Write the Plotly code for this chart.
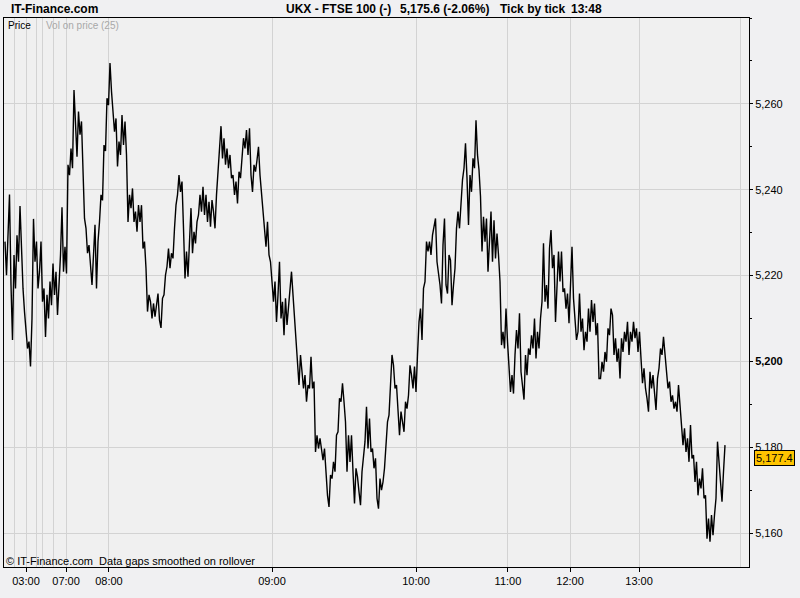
import plotly.graph_objects as go

W, H = 800, 598
L, R, T, B = 4, 51, 18, 31   # plot frame margins in pixels

# tick-by-tick prices (one reading every ~1.5 px)
price_0300_0840 = [
    5227.9, 5220.1, 5229.4, 5238.9, 5217.8, 5205.0, 5224.8, 5217.0, 5229.4, 5223.2,
    5236.2, 5224.8, 5217.0, 5211.6, 5206.1, 5203.0, 5204.6, 5198.8, 5210.0, 5233.2,
    5223.2, 5227.9, 5217.0, 5220.9, 5227.9, 5213.9, 5217.0, 5205.7, 5215.5, 5210.0,
    5218.6, 5213.1, 5222.8, 5215.5, 5220.9, 5210.8, 5217.8, 5224.8, 5235.9, 5220.9,
    5226.7, 5220.5, 5245.8, 5243.4, 5249.6, 5245.0, 5263.2, 5253.5, 5247.7, 5258.2,
    5252.8, 5255.9, 5242.7, 5233.3, 5231.0, 5225.2, 5227.1, 5222.4, 5217.8, 5224.8,
    5231.8, 5217.0, 5227.9, 5232.5, 5238.8, 5237.5, 5250.4, 5249.0, 5261.3, 5259.7,
    5269.5, 5262.9, 5257.8, 5253.5, 5256.6, 5245.4, 5251.2, 5248.1, 5257.4, 5250.4,
    5255.9, 5248.1, 5232.5, 5238.8, 5235.7, 5240.3, 5232.5, 5234.9, 5230.2, 5236.4,
    5232.5, 5236.4, 5226.3, 5227.9, 5221.7, 5211.6, 5215.5]
price_0840_0910 = [
    5213.9, 5210.0, 5213.5, 5210.4, 5213.1, 5215.8, 5209.6, 5207.8, 5214.7, 5215.5,
    5220.1, 5222.1, 5226.3, 5221.7, 5225.2, 5224.0, 5231.0, 5236.4, 5238.8, 5243.4,
    5239.5, 5241.9, 5231.0, 5219.3, 5225.6, 5219.7, 5227.9, 5235.7, 5225.2, 5230.2,
    5227.5, 5232.5, 5234.1, 5238.8, 5234.9, 5240.7, 5234.1, 5238.8, 5232.5, 5237.2,
    5231.4, 5237.6, 5234.9, 5231.0, 5238.8, 5245.0, 5248.9, 5254.8, 5247.3, 5252.0,
    5245.8, 5249.6, 5245.0, 5248.1, 5242.7, 5243.4, 5238.8, 5241.9, 5236.8, 5244.2,
    5242.7, 5246.5, 5252.0, 5249.6, 5253.9, 5248.1, 5254.3, 5243.4, 5239.5, 5245.8,
    5244.2, 5246.9, 5250.0, 5243.4, 5238.8, 5235.7, 5231.0, 5226.7, 5232.5, 5224.8,
    5223.2, 5217.8, 5213.9, 5218.6, 5209.2, 5215.5, 5223.2, 5210.0, 5213.9, 5206.1,
    5214.7, 5208.5, 5212.3, 5217.8, 5220.9, 5215.5, 5210.8, 5204.6, 5201.1, 5194.5]
price_0910_1025 = [
    5201.5, 5196.8, 5193.7, 5196.8, 5190.6, 5194.5, 5193.7, 5201.1, 5193.7, 5195.3,
    5178.9, 5182.8, 5179.7, 5182.1, 5178.9, 5177.0, 5179.7, 5172.7, 5168.8, 5166.1,
    5173.5, 5172.7, 5176.6, 5174.3, 5182.8, 5183.6, 5191.4, 5190.6, 5194.9, 5190.6,
    5185.9, 5174.3, 5182.8, 5176.6, 5182.8, 5174.3, 5166.9, 5175.1, 5173.1, 5169.6,
    5166.5, 5174.3, 5178.2, 5181.3, 5189.4, 5179.7, 5186.7, 5178.9, 5179.7, 5175.1,
    5177.4, 5168.1, 5165.7, 5172.7, 5170.0, 5171.9, 5175.1, 5181.3, 5185.9, 5187.5,
    5193.7, 5201.5, 5199.1, 5193.7, 5194.5, 5186.7, 5182.8, 5188.3, 5185.2, 5183.6,
    5190.6, 5189.0, 5192.1, 5199.1, 5196.8, 5193.7, 5198.8, 5192.9, 5201.5, 5209.2,
    5212.3, 5205.0, 5217.0, 5218.6, 5227.9, 5225.6, 5227.9, 5224.8, 5229.4, 5231.0,
    5233.3, 5223.2, 5220.9, 5217.8, 5213.5, 5227.1, 5233.3, 5217.8, 5215.8, 5224.8]
price_1025_1230 = [
    5223.6, 5213.1, 5217.8, 5221.7, 5231.0, 5234.9, 5231.0, 5237.2, 5242.3, 5245.0,
    5250.8, 5242.7, 5231.8, 5243.4, 5239.5, 5247.3, 5245.0, 5256.2, 5248.1, 5244.6,
    5238.4, 5225.6, 5233.7, 5227.9, 5233.3, 5220.9, 5229.1, 5234.9, 5223.2, 5232.9,
    5224.0, 5229.8, 5224.8, 5218.6, 5203.8, 5206.9, 5203.0, 5212.3, 5204.6, 5197.6,
    5192.9, 5196.8, 5192.5, 5201.5, 5207.3, 5203.0, 5211.2, 5197.6, 5193.7, 5191.1,
    5201.5, 5196.8, 5203.0, 5201.5, 5206.1, 5203.0, 5210.0, 5200.7, 5206.9, 5203.0,
    5210.0, 5213.9, 5227.5, 5213.9, 5217.8, 5212.3, 5226.3, 5230.6, 5221.7, 5224.8,
    5209.2, 5218.6, 5225.6, 5218.6, 5225.6, 5216.2, 5217.0, 5212.3, 5215.8, 5208.9,
    5220.1, 5226.7, 5214.7, 5209.2, 5205.0, 5206.9, 5215.8, 5206.9, 5210.0, 5202.6,
    5206.9, 5204.6, 5212.3, 5206.9, 5214.3, 5209.2, 5213.5, 5206.1, 5208.9, 5196.0]
price_1230_1348 = [
    5196.0, 5199.9, 5197.6, 5202.2, 5199.9, 5207.7, 5206.1, 5212.3, 5210.8, 5201.5,
    5205.4, 5199.9, 5203.0, 5196.0, 5205.4, 5202.2, 5206.9, 5204.6, 5209.2, 5201.5,
    5206.9, 5204.6, 5209.2, 5205.4, 5207.7, 5202.2, 5206.9, 5200.7, 5194.9, 5198.4,
    5193.7, 5191.4, 5188.3, 5197.6, 5193.7, 5196.8, 5191.4, 5188.7, 5196.0, 5198.4,
    5203.0, 5201.5, 5205.7, 5201.5, 5196.8, 5193.7, 5195.3, 5190.6, 5192.1, 5189.0,
    5190.6, 5188.3, 5194.5, 5189.0, 5185.9, 5180.5, 5184.4, 5178.9, 5182.1, 5176.6,
    5185.2, 5177.4, 5178.2, 5171.9, 5176.6, 5168.8, 5172.7, 5170.4, 5175.1, 5168.1,
    5168.8, 5158.7, 5163.4, 5158.0, 5164.2, 5159.5, 5164.2, 5168.1, 5181.3, 5175.8,
    5170.4, 5167.3, 5174.3, 5180.5]

price = price_0300_0840 + price_0840_0910 + price_0910_1025 + price_1025_1230 + price_1230_1348
seq = list(range(len(price)))

# x axis is tick sequence number (gaps compressed)
time_labels = ['03:00', '07:00', '08:00', '09:00', '10:00', '11:00', '12:00', '13:00']
time_pos = [14, 40.7, 69.3, 178, 274, 335.3, 376.7, 422.7]
rollover_pos = [6, 20.7, 25.3, 32, 490]
x_range = [-0.67, 496]

price_ticks = [5160, 5180, 5200, 5220, 5240, 5260]
price_text = ['5,160', '5,180', '<b>5,200</b>', '5,220', '5,240', '5,260']
y_range = [5152.1, 5280.0]
last_price = 5177.4

FONT = 'Liberation Sans, Arial, sans-serif'
GRID = '#D3D3D3'
PAPER = '#F0F0F2'


def px(x):
    return (x - L) / (W - L - R)


def py(y):
    return 1 - (y - T) / (H - T - B)


fig = go.Figure()
fig.add_trace(go.Scatter(x=seq, y=price, mode='lines',
                         line=dict(color='black', width=1.4),
                         hoverinfo='y', showlegend=False))

fig.update_layout(
    width=W, height=H,
    margin=dict(l=L, r=R, t=T, b=B, autoexpand=False),
    paper_bgcolor=PAPER, plot_bgcolor='#F0F0F0',
    font=dict(family=FONT, size=11, color='black'),
    showlegend=False,
    xaxis=dict(range=x_range, tickmode='array', tickvals=time_pos, ticktext=time_labels,
               ticks='outside', ticklen=4, tickcolor='black',
               showgrid=True, gridcolor=GRID, gridwidth=1, zeroline=False,
               showline=True, linecolor='black', linewidth=1, mirror=True,
               minor=dict(tickmode='array', tickvals=rollover_pos, showgrid=True,
                          gridcolor=GRID, ticks='')),
    yaxis=dict(range=y_range, side='right', tickmode='array', tickvals=price_ticks,
               ticktext=price_text, ticks='outside', ticklen=3, tickcolor='black',
               showgrid=True, gridcolor=GRID, gridwidth=1, zeroline=False,
               showline=True, linecolor='black', linewidth=1, mirror=True,
               minor=dict(dtick=10, tick0=5150, ticks='outside', ticklen=2,
                          tickcolor='black', showgrid=False)),
)

def note(text, x, y, size=11, color='black', bold=False):
    if bold:
        text = '<b>' + text + '</b>'
    fig.add_annotation(text=text, xref='paper', yref='paper', x=px(x), y=py(y),
                       xanchor='left', yanchor='middle', showarrow=False,
                       font=dict(family=FONT, size=size, color=color))

# header
note('IT-Finance.com', 9, 9, size=12, bold=True)
note('UKX - FTSE 100 (-)', 284, 9, size=12, bold=True)
note('5,175.6 (-2.06%)', 398, 9, size=12, bold=True)
note('Tick by tick', 498, 9, size=12, bold=True)
note('13:48', 569, 9, size=12, bold=True)

# panel labels
note('Price', 6, 25, size=10)
note('Vol on price (25)', 44, 25, size=10, color='#A8A8A8')
note('© IT-Finance.com  Data gaps smoothed on rollover', 4, 561, size=11)

# last price box
fig.add_annotation(text=f'{last_price:,.1f}', xref='paper', yref='y',
                   x=px(754), y=last_price, xanchor='left', yanchor='middle',
                   showarrow=False, bgcolor='#FFC400', bordercolor='black',
                   borderwidth=1, borderpad=1,
                   font=dict(family=FONT, size=11, color='black'))

fig.write_html("out.html", config={'displayModeBar': False},
               post_script="document.body.style.margin='0';"
                           f"document.body.style.background='{PAPER}';")
